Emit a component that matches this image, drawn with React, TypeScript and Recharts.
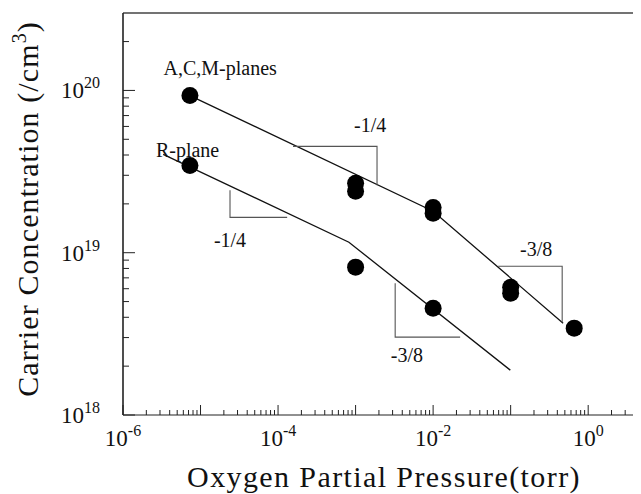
import { ScatterChart, Scatter, XAxis, YAxis, ReferenceLine } from 'recharts';

// measured points (torr, /cm^3)
const acmPressure = [7.3e-6, 1e-3, 1e-3, 1e-2, 1e-2, 0.1, 0.1, 0.66];
const acmCarrier = [9.3e19, 2.68e19, 2.39e19, 1.9e19, 1.75e19, 6.13e18, 5.63e18, 3.43e18];
const rPressure = [7.3e-6, 1e-3, 1e-2];
const rCarrier = [3.45e19, 8.15e18, 4.55e18];

// fitted lines (two slopes each)
const acmFitPressure = [7.3e-6, 1e-2, 0.475];
const acmFitCarrier = [9.3e19, 1.8e19, 3.68e18];
const rFitPressure = [3.3e-6, 8.2e-4, 0.099];
const rFitCarrier = [4.04e19, 1.16e19, 1.89e18];

// slope triangles
const triAcmQuarterP = [1.56e-4, 1.89e-3, 1.89e-3];
const triAcmQuarterC = [4.52e19, 4.52e19, 2.6e19];
const triRQuarterP = [2.4e-5, 2.4e-5, 1.31e-4];
const triRQuarterC = [2.43e19, 1.65e19, 1.65e19];
const triAcmEighthP = [0.069, 0.462, 0.462];
const triAcmEighthC = [8.26e18, 8.26e18, 3.73e18];
const triREighthP = [3.24e-3, 3.24e-3, 0.0223];
const triREighthC = [6.49e18, 3.02e18, 3.02e18];

// text notes
const noteText = ['A,C,M-planes', 'R-plane', '-1/4', '-1/4', '-3/8', '-3/8'];
const notePressure = [1.79e-5, 6.8e-6, 1.54e-3, 2.4e-5, 0.213, 4.6e-3];
const noteCarrier = [1.24e20, 3.87e19, 5.52e19, 1.08e19, 9.5e18, 2.12e18];

// axes
const xDecades = [1e-6, 1e-5, 1e-4, 1e-3, 1e-2, 1e-1, 1];
const xLabelExps = [-6, -4, -2, 0];
const yDecades = [1e18, 1e19, 1e20];
const yLabelExps = [18, 19, 20];
const minorSteps = [2, 3, 4, 5, 6, 7, 8, 9];
const xDomain = [1e-6, 4.8];
const yDomain = [1e18, 3e20];

const zip = (p: number[], c: number[]) => p.map((v, i) => ({ p: v, c: c[i] }));
const within = (v: number, d: number[]) => v >= d[0] * 0.999 && v <= d[1] * 1.001;
const withMinors = (dec: number[], d: number[]) =>
  dec.flatMap((m) => [m, ...minorSteps.map((k) => k * m)]).filter((v) => within(v, d));

const xTicks = withMinors(xDecades, xDomain);
const yTicks = withMinors(yDecades, yDomain).filter((v) => v < yDomain[1] * 0.99);

const FONT = '"Liberation Serif", "Times New Roman", serif';
const INK = '#111';

const isDecade = (v: number) => {
  const e = Math.log10(v);
  return Math.abs(e - Math.round(e)) < 1e-6;
};

const XTick = (props: any) => {
  const { x, y, payload } = props;
  const major = isDecade(payload.value);
  const exp = Math.round(Math.log10(payload.value));
  return (
    <g>
      <line x1={x} y1={y} x2={x} y2={y - (major ? 10 : 5)} stroke="#222" strokeWidth={1} />
      {major && xLabelExps.includes(exp) && (
        <text x={x} y={y + 31} textAnchor="middle" fontFamily={FONT} fill={INK}>
          <tspan fontSize={23}>10</tspan>
          <tspan fontSize={16} dy={-10}>{exp}</tspan>
        </text>
      )}
    </g>
  );
};

const YTick = (props: any) => {
  const { x, y, payload } = props;
  const major = isDecade(payload.value);
  const exp = Math.round(Math.log10(payload.value));
  return (
    <g>
      <line x1={x} y1={y} x2={x + (major ? 12 : 6)} y2={y} stroke="#222" strokeWidth={1} />
      {major && yLabelExps.includes(exp) && (
        <text x={x - 23} y={y + 8} textAnchor="end" fontFamily={FONT} fill={INK}>
          <tspan fontSize={23}>10</tspan>
          <tspan fontSize={16} dy={-10}>{exp}</tspan>
        </text>
      )}
    </g>
  );
};

const Dot = (props: any) => <circle cx={props.cx} cy={props.cy} r={8.5} fill="#000" />;
const NoMark = () => <g />;
const Note = (props: any) => (
  <text x={props.cx} y={props.cy} textAnchor="middle" fontFamily={FONT} fontSize={20} fill={INK}>
    {props.payload.text}
  </text>
);

const fitLine = { stroke: '#111', strokeWidth: 1.3 };
const triLine = { stroke: '#555', strokeWidth: 1.1 };

export default function App() {
  const notes = noteText.map((t, i) => ({ text: t, p: notePressure[i], c: noteCarrier[i] }));
  return (
    <ScatterChart width={633} height={486} margin={{ top: 5, right: 0, bottom: 0, left: 0 }}>
      <XAxis
        type="number"
        dataKey="p"
        scale="log"
        domain={xDomain}
        allowDataOverflow
        ticks={xTicks}
        interval={0}
        tickSize={0}
        tickMargin={0}
        tick={<XTick />}
        height={79}
        axisLine={{ stroke: '#222', strokeWidth: 1.2 }}
        label={{
          content: (p: any) => (
            <text
              x={p.viewBox.x + 261}
              y={p.viewBox.y + 72}
              textAnchor="middle"
              fontFamily={FONT}
              fontSize={30}
              letterSpacing={1.4}
              fill={INK}
            >
              Oxygen Partial Pressure(torr)
            </text>
          ),
        }}
      />
      <YAxis
        type="number"
        dataKey="c"
        scale="log"
        domain={yDomain}
        allowDataOverflow
        ticks={yTicks}
        interval={0}
        tickSize={0}
        tickMargin={0}
        tick={<YTick />}
        width={115}
        axisLine={{ stroke: '#222', strokeWidth: 1.6 }}
        label={{
          content: (p: any) => {
            const cx = 30;
            const cy = 201;
            return (
              <text
                x={cx}
                y={cy}
                transform={`rotate(-90, ${cx}, ${cy})`}
                textAnchor="middle"
                fontFamily={FONT}
                fontSize={30}
                letterSpacing={1.1}
                fill={INK}
              >
                Carrier Concentration (/cm
                <tspan fontSize={20} dy={-12}>3</tspan>
                <tspan dy={12}>)</tspan>
              </text>
            );
          },
        }}
      />
      <ReferenceLine y={yDomain[1]} stroke="#444" strokeWidth={1.5} ifOverflow="extendDomain" />

      <Scatter data={zip(acmFitPressure, acmFitCarrier)} line={fitLine} shape={NoMark} isAnimationActive={false} />
      <Scatter data={zip(rFitPressure, rFitCarrier)} line={fitLine} shape={NoMark} isAnimationActive={false} />
      <Scatter data={zip(triAcmQuarterP, triAcmQuarterC)} line={triLine} shape={NoMark} isAnimationActive={false} />
      <Scatter data={zip(triRQuarterP, triRQuarterC)} line={triLine} shape={NoMark} isAnimationActive={false} />
      <Scatter data={zip(triAcmEighthP, triAcmEighthC)} line={triLine} shape={NoMark} isAnimationActive={false} />
      <Scatter data={zip(triREighthP, triREighthC)} line={triLine} shape={NoMark} isAnimationActive={false} />

      <Scatter data={zip(acmPressure, acmCarrier)} shape={Dot} isAnimationActive={false} />
      <Scatter data={zip(rPressure, rCarrier)} shape={Dot} isAnimationActive={false} />
      <Scatter data={notes} shape={Note} isAnimationActive={false} />
    </ScatterChart>
  );
}
